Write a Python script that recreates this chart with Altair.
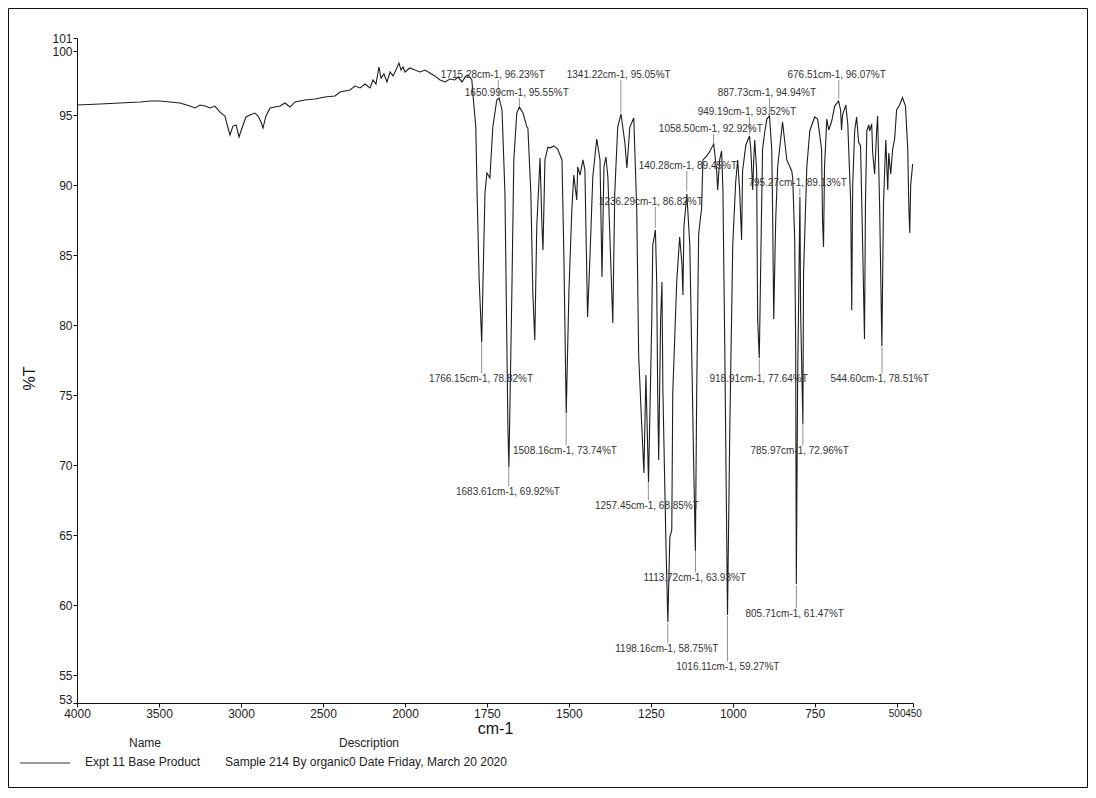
import altair as alt
import pandas as pd

# ---------------- spectrum data (wavenumber cm-1, %T) ----------------
WN_A = [4000, 3860, 3738, 3616, 3555, 3494, 3433, 3372, 3311, 3280,
        3250, 3220, 3189, 3159, 3128, 3098, 3079, 3067, 3049, 3030,
        3012, 2994, 2970, 2945, 2915, 2896, 2878, 2866, 2848, 2823,
        2762, 2732, 2701, 2671, 2610, 2549, 2488, 2427, 2396, 2335,
        2305, 2274, 2244, 2213, 2195, 2177, 2159, 2146, 2128, 2110,
        2091, 2073, 2055, 2037, 2024, 2012, 2000]
PT_A = [95.71, 95.79, 95.86, 95.93, 96.00, 96.00, 95.93, 95.86, 95.64, 95.50,
        95.71, 95.64, 95.50, 95.64, 95.21, 94.93, 94.07, 93.57, 94.21, 94.29,
        93.43, 94.07, 94.86, 95.00, 95.14, 94.93, 94.50, 94.07, 94.93, 95.50,
        95.64, 95.86, 95.57, 95.93, 96.07, 96.14, 96.29, 96.36, 96.64, 96.79,
        97.07, 96.93, 97.21, 96.93, 97.50, 97.21, 98.43, 97.64, 97.93, 97.36,
        98.07, 97.79, 98.21, 98.79, 98.21, 98.43, 98.07]

WN_B = [1985, 1970, 1954, 1939, 1924, 1909, 1893, 1878, 1863, 1848,
        1838, 1826, 1814, 1808, 1796, 1793, 1784, 1780, 1774, 1766,
        1756, 1750, 1741, 1732, 1720, 1713, 1704, 1695, 1686, 1683,
        1674, 1668, 1659, 1651, 1640, 1628, 1625, 1616, 1610, 1604,
        1598, 1588, 1582, 1579, 1573, 1564, 1558, 1546, 1534, 1521,
        1515, 1509, 1508, 1500]
PT_B = [98.36, 98.21, 98.07, 98.21, 98.00, 97.79, 97.50, 97.36, 97.57, 97.50,
        97.71, 97.36, 97.79, 97.86, 97.50, 96.57, 94.14, 89.43, 83.43, 78.79,
        89.43, 90.86, 90.50, 94.14, 96.07, 96.21, 95.36, 89.43, 72.71, 69.86,
        82.29, 91.79, 95.14, 95.57, 95.14, 94.14, 94.07, 89.43, 82.29, 78.93,
        87.00, 91.93, 87.00, 85.36, 91.79, 92.71, 92.64, 92.79, 92.57, 91.79,
        84.64, 75.14, 73.71, 82.29]

WN_C = [1491, 1485, 1476, 1473, 1466, 1457, 1451, 1448, 1443, 1436,
        1427, 1415, 1405, 1399, 1393, 1387, 1381, 1366, 1360, 1351,
        1341, 1329, 1323, 1314, 1302, 1293, 1287, 1277, 1271, 1265,
        1257, 1247, 1244, 1236, 1232, 1229, 1226, 1220, 1216, 1213,
        1204, 1198, 1192, 1186, 1183, 1171, 1162, 1155, 1152, 1149,
        1140, 1131, 1125, 1119, 1114, 1110, 1104, 1095, 1091, 1082,
        1073, 1058, 1049, 1046, 1040, 1034, 1030, 1024, 1016, 1009,
        1000]
PT_C = [88.21, 90.71, 88.93, 91.29, 90.71, 91.79, 91.07, 87.00, 80.57, 84.64,
        90.57, 93.29, 91.79, 83.43, 91.29, 92.00, 90.57, 80.14, 89.43, 94.14,
        95.07, 93.00, 91.21, 94.14, 94.79, 88.36, 77.79, 72.50, 69.43, 76.43,
        68.79, 80.43, 85.71, 86.79, 83.07, 75.14, 70.36, 80.43, 83.07, 75.14,
        64.57, 58.79, 64.79, 65.36, 75.14, 83.07, 86.29, 84.36, 82.14, 87.00,
        89.36, 85.71, 77.79, 69.86, 63.86, 75.14, 86.50, 88.36, 91.79, 92.00,
        92.29, 92.93, 91.00, 89.64, 91.79, 92.43, 89.64, 77.79, 59.29, 72.50,
        85.71]

WN_D = [991, 985, 979, 973, 970, 960, 949, 945, 939, 936,
        933, 927, 924, 919, 912, 909, 902, 896, 888, 881,
        878, 875, 869, 863, 848, 835, 820, 817, 811, 808,
        806, 802, 795, 793, 786, 784, 774, 765, 750, 741,
        729, 726, 723, 720, 713, 707, 698, 689, 677, 671,
        668, 665, 655, 649, 640, 637, 634, 628, 622, 616,
        610, 604, 598, 595, 591, 585, 582, 576, 573, 567,
        561, 558, 552, 545, 540, 533, 527, 524, 518, 512,
        506, 500, 491, 482, 473, 466, 463, 460, 457, 451]
PT_D = [90.21, 91.79, 89.64, 86.07, 91.00, 92.86, 93.50, 92.57, 89.64, 91.79,
        93.21, 91.00, 80.43, 77.64, 88.36, 92.57, 93.86, 94.71, 94.93, 92.57,
        87.43, 80.43, 87.43, 91.29, 94.50, 91.79, 91.00, 90.50, 86.14, 78.50,
        61.50, 76.00, 89.14, 81.07, 72.93, 83.64, 91.29, 93.86, 94.86, 94.71,
        92.57, 87.43, 85.57, 91.29, 94.71, 93.93, 94.57, 95.64, 96.00, 95.36,
        93.93, 95.00, 95.71, 94.36, 88.71, 81.07, 90.00, 93.86, 94.86, 93.07,
        92.79, 86.14, 79.00, 88.71, 93.86, 94.29, 93.86, 94.36, 92.29, 90.79,
        93.86, 94.93, 88.71, 78.50, 88.71, 93.21, 89.64, 92.29, 90.79, 92.57,
        93.29, 95.36, 95.71, 96.25, 95.64, 92.57, 88.71, 86.57, 90.00, 91.50]

# ---------------- peak annotations ----------------
ANN_TEXT = ["1715.28cm-1, 96.23%T", "1650.99cm-1, 95.55%T", "1341.22cm-1, 95.05%T",
            "1236.29cm-1, 86.82%T", "140.28cm-1, 89.45%T", "1058.50cm-1, 92.92%T",
            "949.19cm-1, 93.52%T", "887.73cm-1, 94.94%T", "795.27cm-1, 89.13%T",
            "676.51cm-1, 96.07%T", "1766.15cm-1, 78.82%T", "1683.61cm-1, 69.92%T",
            "1508.16cm-1, 73.74%T", "1257.45cm-1, 68.85%T", "1198.16cm-1, 58.75%T",
            "1113.72cm-1, 63.93%T", "1016.11cm-1, 59.27%T", "918.91cm-1, 77.64%T",
            "805.71cm-1, 61.47%T", "785.97cm-1, 72.96%T", "544.60cm-1, 78.51%T"]
ANN_WN = [1715.28, 1650.99, 1341.22, 1236.29, 1140.28, 1058.50, 949.19, 887.73, 795.27,
          676.51, 1766.15, 1683.61, 1508.16, 1257.45, 1198.16, 1113.72, 1016.11, 918.91,
          805.71, 785.97, 544.60]
ANN_T = [96.23, 95.55, 95.05, 86.82, 89.45, 92.92, 93.52, 94.94, 89.13,
         96.07, 78.82, 69.92, 73.74, 68.85, 58.75, 63.93, 59.27, 77.64,
         61.47, 72.96, 78.51]
LABEL_WN = [1732, 1659, 1348, 1250, 1137, 1067, 957, 896, 802,
            683, 1768, 1686, 1512, 1262, 1201, 1116, 1015, 921,
            811, 796, 552]
LABEL_T = [97.86, 96.57, 97.86, 88.79, 91.36, 94.00, 95.21, 96.57, 90.14,
           97.86, 76.14, 68.07, 71.00, 67.07, 56.86, 61.93, 55.57, 76.14,
           59.36, 71.00, 76.14]

X_TICKS = [4000, 3500, 3000, 2500, 2000, 1750, 1500, 1250, 1000, 750, 500, 450]
Y_TICKS = [53, 55, 60, 65, 70, 75, 80, 85, 90, 95, 100, 101]

FONT = "Liberation Sans"
W, H = 836, 665

wn = WN_A + WN_B + WN_C + WN_D
pt = PT_A + PT_B + PT_C + PT_D
assert len(wn) == len(pt)
spec = pd.DataFrame({"wn": wn, "T": pt, "i": range(len(wn))})

ann = pd.DataFrame({"text": ANN_TEXT, "wn": ANN_WN, "T": ANN_T,
                    "lwn": LABEL_WN, "lT": LABEL_T})

xscale = alt.Scale(domain=[4000, 2000, 450], range=[0, 328, W], nice=False, zero=False)
yscale = alt.Scale(domain=[53, 98.5, 100, 101], range=[H, 28, 13, 0], nice=False, zero=False)

xaxis = alt.Axis(values=X_TICKS, format="d", title="cm-1", titleFontSize=16,
                 titleFontWeight="normal", titlePadding=1,
                 labelFontSize={"condition": {"test": "datum.value <= 500", "value": 10},
                                "value": 12},
                 labelPadding=1, tickSize=4, labelFlush=False, labelOverlap=False,
                 grid=False, domainColor="#111", tickColor="#111", labelColor="#222",
                 titleColor="#111")
yaxis = alt.Axis(values=Y_TICKS, format="d", title="%T", titleFontSize=16,
                 titleFontWeight="normal", titlePadding=14, titleY=340,
                 labelFontSize=12, labelPadding=1, tickSize=4, labelFlush=False,
                 labelBaseline={"condition": {"test": "datum.value == 53", "value": "alphabetic"},
                                "value": "middle"},
                 labelOverlap=False, grid=False, domainColor="#111", tickColor="#111",
                 labelColor="#222", titleColor="#111")

curve = alt.Chart(spec).mark_line(color="#1e1e1e", strokeWidth=1.1).encode(
    x=alt.X("wn:Q", scale=xscale, axis=xaxis),
    y=alt.Y("T:Q", scale=yscale, axis=yaxis),
    order="i:Q",
)

leaders = alt.Chart(ann).transform_calculate(
    y1="datum.lT > datum.T ? datum.T + 0.1 : datum.T - 0.05",
    y2="datum.lT > datum.T ? datum.lT - 0.35 : datum.lT + 0.4",
).mark_rule(color="#777", strokeWidth=0.8).encode(
    x=alt.X("wn:Q", scale=xscale),
    y=alt.Y("y1:Q", scale=yscale),
    y2="y2:Q",
)

labels = alt.Chart(ann).mark_text(font=FONT, fontSize=10, color="#333",
                                  align="center", baseline="middle").encode(
    x=alt.X("lwn:Q", scale=xscale),
    y=alt.Y("lT:Q", scale=yscale),
    text="text:N",
)

one = alt.Data(values=[{"k": 1}])


def txt(s, x, y, align="center", size=12):
    return alt.Chart(one).mark_text(text=s, font=FONT, fontSize=size, color="#222",
                                    align=align, baseline="middle").encode(
        x=alt.value(x), y=alt.value(y))


legend_name = txt("Name", 68, 705)
legend_desc = txt("Description", 292, 705)
legend_expt = txt("Expt 11 Base Product", 8, 724, align="left")
legend_sample = txt("Sample 214 By organic0 Date Friday, March 20 2020", 148, 724, align="left")
legend_line = alt.Chart(one).mark_rule(color="#333", strokeWidth=1).encode(
    x=alt.value(-57), x2=alt.value(-7), y=alt.value(725))

frame = alt.Chart(one).mark_rect(fillOpacity=0, stroke="#111", strokeWidth=1).encode(
    x=alt.value(-68.5), x2=alt.value(1010.5), y=alt.value(-29.5), y2=alt.value(749.5))

chart = alt.layer(frame, curve, leaders, labels, legend_name, legend_desc,
                  legend_line, legend_expt, legend_sample).properties(
    width=W, height=H,
    autosize=alt.AutoSizeParams(type="none"),
    padding={"left": 69, "top": 30, "right": 175, "bottom": 85},
).configure(font=FONT).configure_view(strokeWidth=0, stroke="transparent").configure_axis(
    labelFont=FONT, titleFont=FONT)

chart.save("out.html", embed_options={"renderer": "svg", "actions": False})
